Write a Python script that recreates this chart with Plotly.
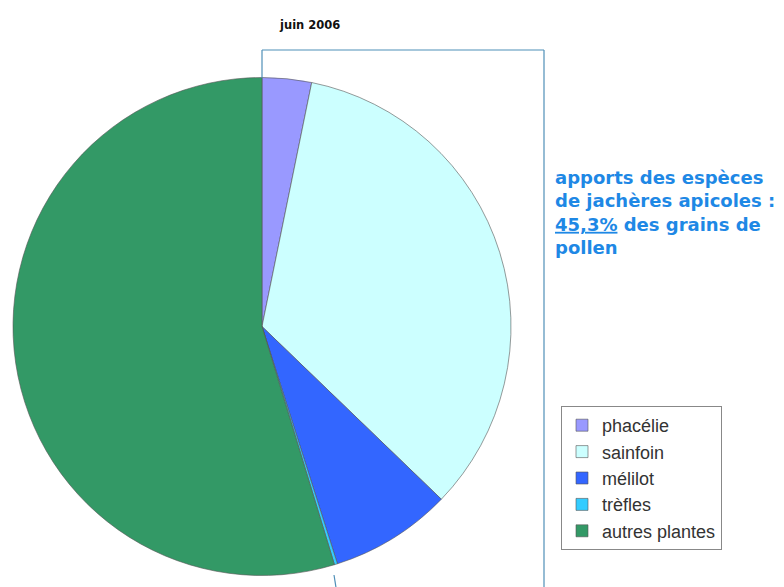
import plotly.graph_objects as go

labels = ["phacélie", "sainfoin", "mélilot", "trèfles", "autres plantes"]
values = [3.2, 34.0, 7.9, 0.2, 54.7]
colors = ["#9999FF", "#CCFFFF", "#3366FF", "#33CCFF", "#339966"]
title_text = "juin 2006"
note_text = "apports des espèces<br>de jachères apicoles :<br><u>45,3%</u> des grains de<br>pollen"

W, H = 784, 587

def px(x):
    return x / W

def py(y):
    return 1 - y / H

fig = go.Figure(go.Pie(
    labels=labels, values=values, sort=False, direction="clockwise", rotation=0,
    marker=dict(colors=colors, line=dict(color="#555555", width=0.6)),
    textinfo="none", hoverinfo="label+percent",
    domain=dict(x=[px(13), px(511)], y=[py(576), py(77)]),
))

line_col = "#4f8fb8"
shapes = [
    dict(type="line", xref="paper", yref="paper", x0=px(262), y0=py(78), x1=px(262), y1=py(50), line=dict(color=line_col, width=1.2)),
    dict(type="line", xref="paper", yref="paper", x0=px(262), y0=py(50), x1=px(544), y1=py(50), line=dict(color=line_col, width=1.2)),
    dict(type="line", xref="paper", yref="paper", x0=px(544), y0=py(50), x1=px(544), y1=py(600), line=dict(color=line_col, width=1.2)),
    dict(type="line", xref="paper", yref="paper", x0=px(334), y0=py(575), x1=px(338), y1=py(600), line=dict(color=line_col, width=1.2)),
]

fig.update_layout(
    width=W, height=H,
    margin=dict(l=0, r=0, t=0, b=0),
    paper_bgcolor="white", plot_bgcolor="white",
    font=dict(family="DejaVu Sans, Liberation Sans, Arial, sans-serif", color="#333333"),
    shapes=shapes,
    annotations=[
        dict(text="<b>" + title_text + "</b>", xref="paper", yref="paper", x=px(309), y=py(25),
             xanchor="center", yanchor="middle", showarrow=False, font=dict(size=11.5, color="#111111")),
        dict(text="<b>" + note_text + "</b>", xref="paper", yref="paper", x=px(553), y=py(165),
             xanchor="left", yanchor="top", align="left", showarrow=False,
             font=dict(size=18, color="#1E88E5")),
    ],
    legend=dict(x=px(561), y=py(406), xanchor="left", yanchor="top",
                bordercolor="#888888", borderwidth=1, bgcolor="white",
                font=dict(size=18, color="#333333", family="Liberation Sans, Arial, sans-serif"),
                itemwidth=30),
    showlegend=True,
)

fig.write_html("out.html", config={"displayModeBar": False},
               post_script="document.body.style.margin='0';document.body.style.padding='0';")
